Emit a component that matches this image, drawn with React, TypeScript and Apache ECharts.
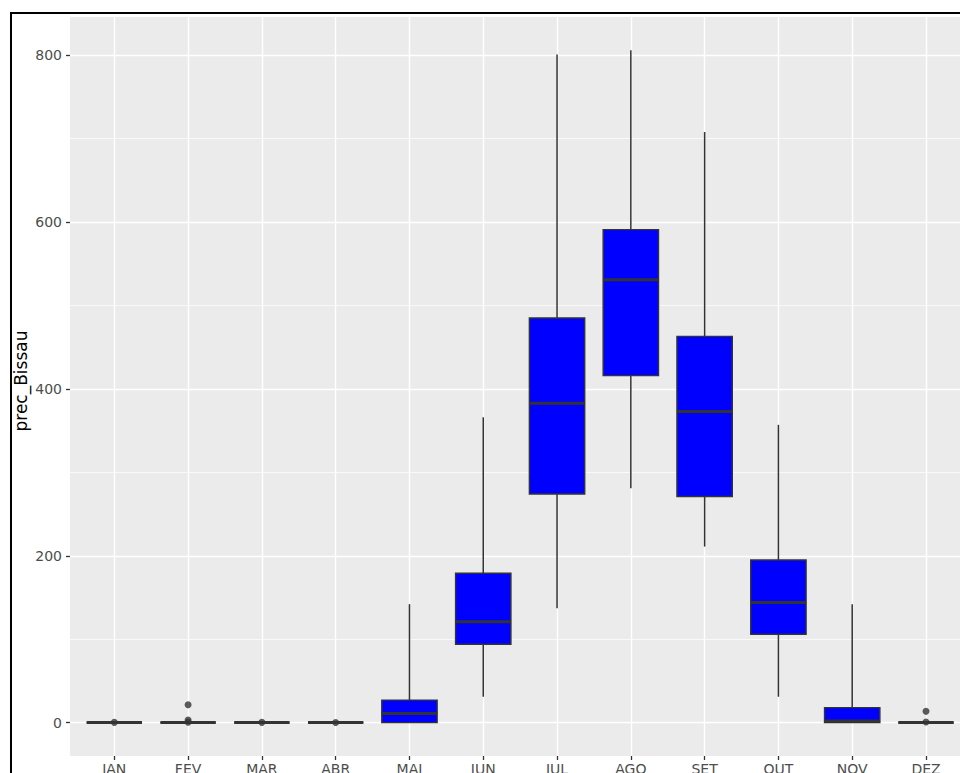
import React, { useEffect, useRef } from 'react';
import * as echarts from 'echarts';

// ---- data ----
const months = ['JAN', 'FEV', 'MAR', 'ABR', 'MAI', 'JUN', 'JUL', 'AGO', 'SET', 'OUT', 'NOV', 'DEZ'];
const whiskerLow = [0, 0, 0, 0, 0, 31, 137, 281, 211, 31, 0, 0];
const q1 = [0, 0, 0, 0, 0, 94, 274, 416, 271, 106, 0, 0];
const median = [0, 0, 0, 0, 11, 121, 383, 531, 373, 144, 2, 0];
const q3 = [0, 0, 0, 0, 27, 179, 485, 591, 463, 195, 18, 0];
const whiskerHigh = [0, 0, 0, 0, 142, 366, 801, 806, 708, 357, 142, 0];
const outlierMonth = [0, 1, 1, 1, 2, 3, 11, 11];
const outlierValue = [0.3, 21.5, 3, 0.5, 0.3, 0.2, 13.5, 0.8];
const yTicks = [0, 200, 400, 600, 800];
const yTitle = 'prec_Bissau';

const FONT = '"DejaVu Sans", "Liberation Sans", Arial, sans-serif';

// layout (pixels)
const PANEL_LEFT = 70;
const PANEL_TOP = 17;
const PANEL_BOTTOM = 756;
const Y0 = 722.6; // pixel of value 0
const Y800 = 55.3; // pixel of value 800
const X_FIRST = 114.3;
const X_LAST = 926;
const H = 773;
const W = 960;

export default function App() {
  const ref = useRef<HTMLDivElement>(null);

  useEffect(() => {
    const chart = echarts.init(ref.current!, null, { renderer: 'svg' });
    const pxPerUnit = (Y0 - Y800) / (yTicks[yTicks.length - 1] - yTicks[0]);
    const dataMin = -(PANEL_BOTTOM - Y0) / pxPerUnit;
    const dataMax = yTicks[yTicks.length - 1] + (Y800 - PANEL_TOP) / pxPerUnit;

    const boxData = months.map((_, i) => [i, whiskerLow[i], q1[i], median[i], q3[i], whiskerHigh[i]]);
    const outliers = outlierMonth.map((m, i) => [m, outlierValue[i]]);

    const renderItem = (params: any, api: any) => {
      const i = api.value(0);
      const pLow = api.coord([i, api.value(1)]);
      const pQ1 = api.coord([i, api.value(2)]);
      const pMed = api.coord([i, api.value(3)]);
      const pQ3 = api.coord([i, api.value(4)]);
      const pHigh = api.coord([i, api.value(5)]);
      const step = api.coord([1, 0])[0] - api.coord([0, 0])[0];
      const half = step * 0.375;
      const x = pMed[0];
      const stroke = '#333333';
      return {
        type: 'group',
        children: [
          { type: 'line', shape: { x1: x, y1: pQ3[1], x2: x, y2: pHigh[1] }, style: { stroke, lineWidth: 1.5 } },
          { type: 'line', shape: { x1: x, y1: pLow[1], x2: x, y2: pQ1[1] }, style: { stroke, lineWidth: 1.5 } },
          {
            type: 'rect',
            shape: { x: x - half, y: pQ3[1], width: 2 * half, height: pQ1[1] - pQ3[1] },
            style: { fill: '#0000FF', stroke, lineWidth: 1.4 },
          },
          {
            type: 'line',
            shape: { x1: x - half, y1: pMed[1], x2: x + half, y2: pMed[1] },
            style: { stroke, lineWidth: 3 },
          },
        ],
      };
    };

    chart.setOption({
      animation: false,
      backgroundColor: '#ffffff',
      graphic: [
        {
          type: 'rect',
          z: -10,
          silent: true,
          shape: { x: PANEL_LEFT, y: PANEL_TOP, width: W - PANEL_LEFT + 20, height: PANEL_BOTTOM - PANEL_TOP },
          style: { fill: '#EBEBEB' },
        },
        {
          type: 'rect',
          z: 50,
          silent: true,
          shape: { x: 11, y: 13, width: 1200, height: 1200 },
          style: { fill: 'none', stroke: '#000000', lineWidth: 2 },
        },
        {
          type: 'text',
          x: 21,
          y: 381,
          rotation: Math.PI / 2,
          silent: true,
          style: {
            text: yTitle,
            font: `17px ${FONT}`,
            fill: '#000000',
            textAlign: 'center',
            textVerticalAlign: 'middle',
          },
        },
      ],
      grid: [
        { left: PANEL_LEFT, right: -20, top: Y800, bottom: H - Y0, outerBoundsMode: 'none', containLabel: false },
        {
          left: X_FIRST,
          right: W - X_LAST,
          top: PANEL_TOP,
          bottom: H - PANEL_BOTTOM,
          outerBoundsMode: 'none',
          containLabel: false,
        },
      ],
      xAxis: [
        { type: 'value', gridIndex: 0, show: false, min: 0, max: 1 },
        {
          type: 'category',
          gridIndex: 1,
          data: months,
          boundaryGap: false,
          position: 'bottom',
          axisLine: { show: false, onZero: false },
          axisTick: { show: true, length: 4, lineStyle: { color: '#333333', width: 1.3 } },
          axisLabel: { show: true, interval: 0, color: '#4D4D4D', fontSize: 14, fontFamily: FONT, margin: 6 },
          splitLine: { show: true, interval: 0, lineStyle: { color: '#FFFFFF', width: 1.4 } },
        },
      ],
      yAxis: [
        {
          type: 'value',
          gridIndex: 0,
          min: yTicks[0],
          max: yTicks[yTicks.length - 1],
          interval: yTicks[1] - yTicks[0],
          axisLine: { show: false },
          axisTick: { show: true, length: 4, lineStyle: { color: '#333333', width: 1.3 } },
          axisLabel: { color: '#4D4D4D', fontSize: 14, fontFamily: FONT, margin: 8 },
          splitLine: { show: true, lineStyle: { color: '#FFFFFF', width: 1.4 } },
          minorTick: { show: false, splitNumber: 2 },
          minorSplitLine: { show: true, lineStyle: { color: '#FFFFFF', width: 0.7 } },
        },
        { type: 'value', gridIndex: 1, show: false, min: dataMin, max: dataMax },
      ],
      series: [
        {
          type: 'custom',
          name: 'box',
          xAxisIndex: 1,
          yAxisIndex: 1,
          renderItem,
          encode: { x: 0, y: [1, 2, 3, 4, 5] },
          data: boxData,
          clip: false,
          z: 5,
        },
        {
          type: 'scatter',
          name: 'outliers',
          xAxisIndex: 1,
          yAxisIndex: 1,
          symbol: 'circle',
          symbolSize: 7,
          itemStyle: { color: '#333333' },
          data: outliers,
          z: 6,
        },
      ],
    });
    return () => chart.dispose();
  }, []);

  return (
    <div
      ref={ref}
      style={{ position: 'absolute', left: 0, top: 0, width: W, height: H, overflow: 'hidden' }}
    />
  );
}
